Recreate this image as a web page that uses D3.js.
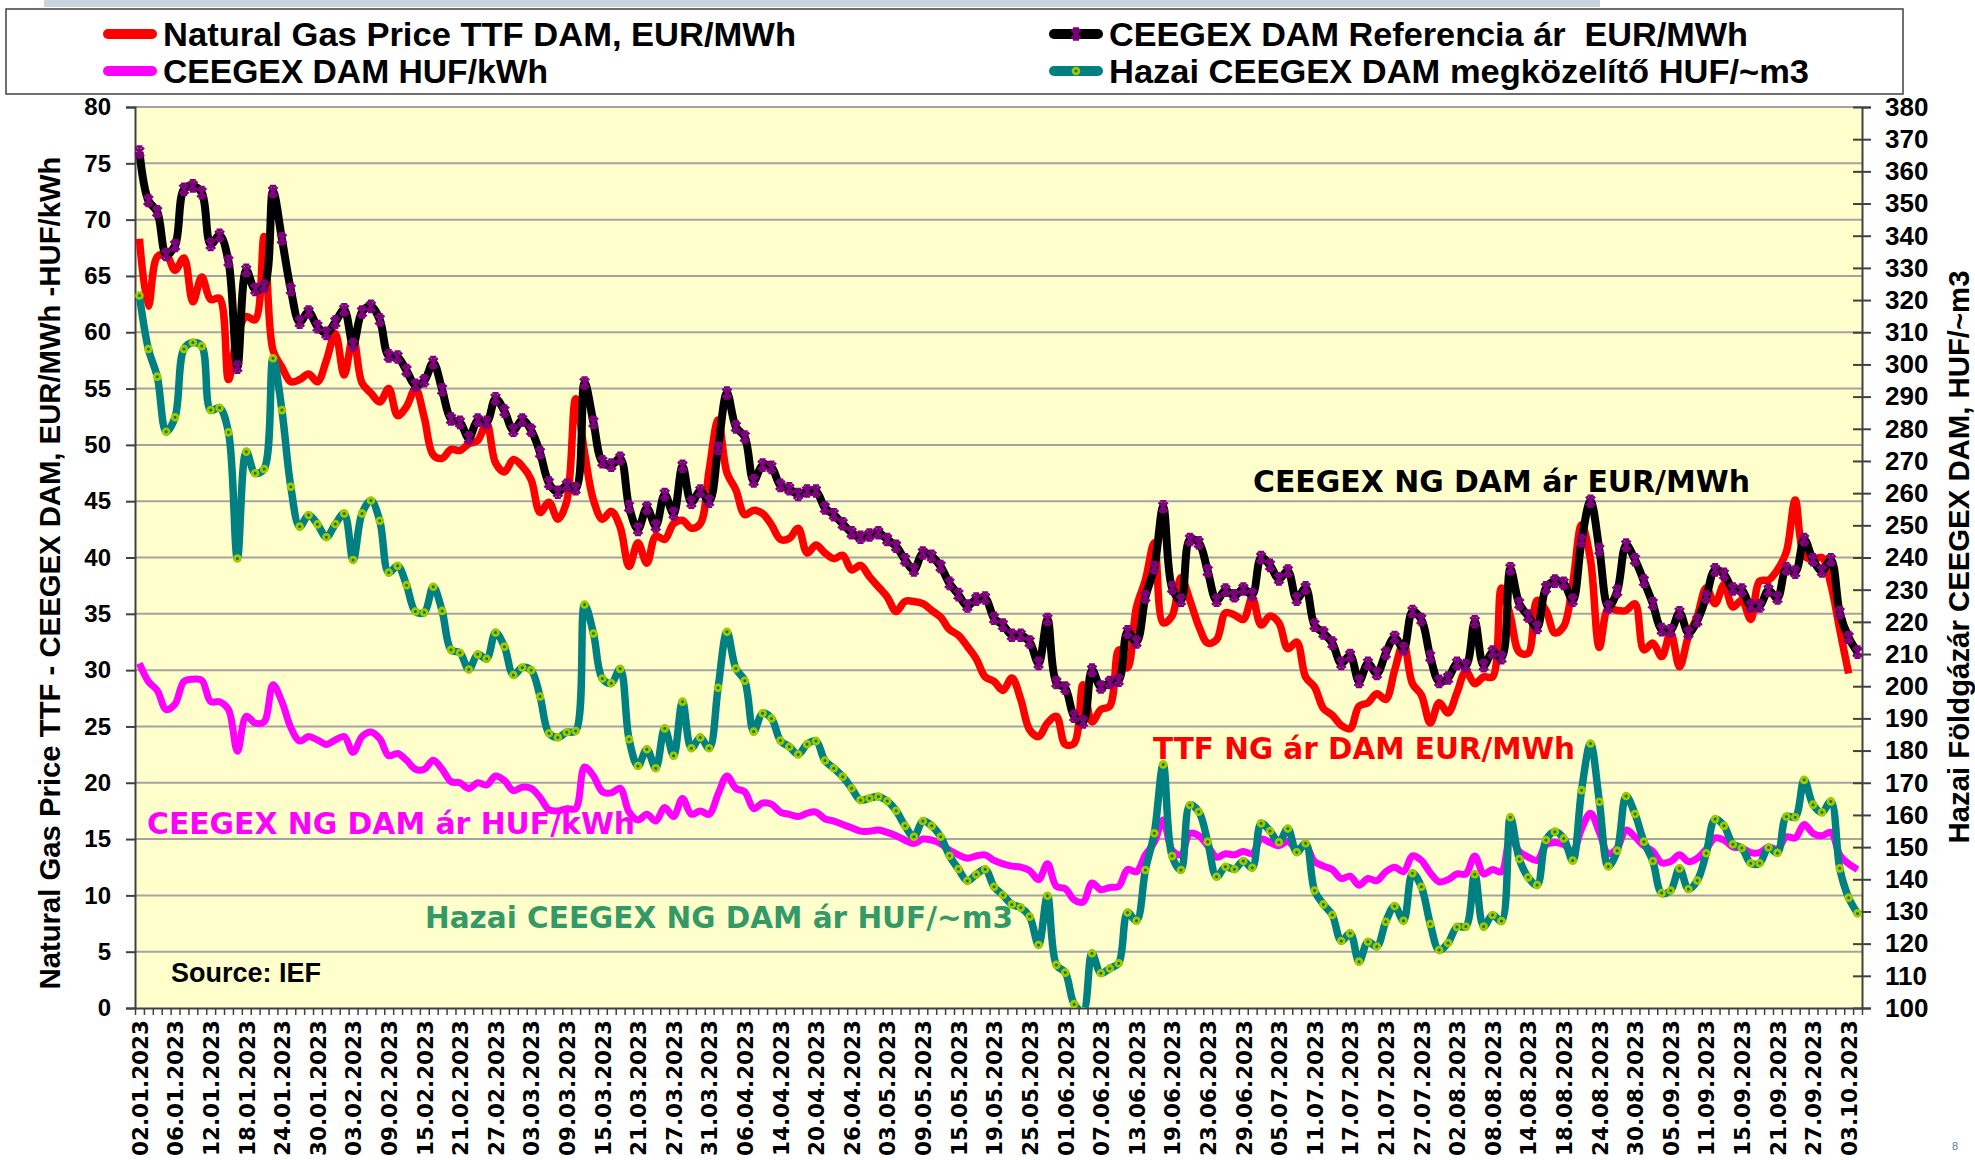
<!DOCTYPE html>
<html>
<head>
<meta charset="utf-8">
<script src="https://cdn.jsdelivr.net/npm/d3@7"></script>
<style>
body { margin: 0; background: #ffffff; }
svg text { font-family: "Liberation Sans", Arial, sans-serif; font-weight: bold; }
.note { font-family: "DejaVu Sans", Verdana, sans-serif !important; }
</style>
</head>
<body>
<svg id="chart" width="1975" height="1160"></svg>
<script>

// x axis labels, one every 4th trading day
const tickLabels = ["02.01.2023","06.01.2023","12.01.2023","18.01.2023","24.01.2023","30.01.2023","03.02.2023","09.02.2023",
    "15.02.2023","21.02.2023","27.02.2023","03.03.2023","09.03.2023","15.03.2023","21.03.2023","27.03.2023","31.03.2023",
    "06.04.2023","14.04.2023","20.04.2023","26.04.2023","03.05.2023","09.05.2023","15.05.2023","19.05.2023","25.05.2023",
    "01.06.2023","07.06.2023","13.06.2023","19.06.2023","23.06.2023","29.06.2023","05.07.2023","11.07.2023","17.07.2023",
    "21.07.2023","27.07.2023","02.08.2023","08.08.2023","14.08.2023","18.08.2023","24.08.2023","30.08.2023","05.09.2023",
    "11.09.2023","15.09.2023","21.09.2023","27.09.2023","03.10.2023"];

// Natural Gas Price TTF DAM, EUR/MWh
const ttfEur = [68.3, 62.3, 66.7, 66.9, 65.5, 66.6, 62.7, 64.9, 62.9, 63.0,
    55.8, 59.8, 61.4, 61.1, 68.5, 58.4, 56.9, 55.6, 55.8, 56.3,
    55.6, 57.5, 59.9, 56.2, 59.6, 55.5, 54.6, 53.8, 55.0, 52.6,
    53.4, 55.0, 52.4, 49.1, 48.8, 49.6, 49.5, 50.1, 50.4, 51.9,
    48.4, 47.6, 48.7, 48.1, 46.9, 44.0, 44.9, 43.4, 45.0, 54.1,
    49.3, 45.1, 43.4, 44.1, 42.7, 39.2, 41.3, 39.5, 41.9, 41.6,
    43.0, 43.3, 42.6, 43.0, 47.8, 52.2, 47.5, 46.0, 43.8, 44.2,
    43.9, 42.9, 41.6, 41.7, 42.6, 40.4, 41.1, 40.4, 39.9, 40.2,
    38.9, 39.3, 38.3, 37.4, 36.5, 35.2, 36.1, 36.1, 35.9, 35.3,
    34.7, 33.6, 33.1, 32.1, 31.0, 29.4, 29.0, 28.2, 29.3, 27.4,
    24.7, 24.1, 25.3, 25.9, 23.4, 23.5, 28.7, 25.4, 26.5, 26.8,
    31.8, 30.2, 35.6, 38.0, 41.3, 34.2, 34.8, 38.2, 36.2, 33.9,
    32.4, 32.7, 35.1, 34.9, 34.5, 36.4, 34.0, 34.8, 34.2, 31.9,
    32.5, 29.4, 28.5, 26.6, 26.0, 25.1, 24.8, 26.8, 27.1, 27.9,
    27.4, 30.0, 32.4, 28.8, 27.8, 25.3, 27.1, 26.2, 28.0, 29.9,
    28.8, 29.4, 29.4, 37.3, 34.8, 31.6, 31.5, 36.2, 35.3, 33.3,
    33.9, 37.7, 42.9, 39.8, 32.0, 35.5, 35.3, 35.3, 35.9, 31.8,
    32.4, 31.2, 33.3, 30.3, 33.0, 34.8, 37.3, 35.9, 37.6, 35.6,
    36.2, 34.5, 37.9, 38.0, 38.9, 40.5, 45.1, 40.2, 39.8, 40.0,
    37.6, 33.6, 29.7];

// CEEGEX DAM Referencia ár EUR/MWh
const ceegexEur = [76.0, 71.7, 70.7, 66.9, 67.7, 72.7, 73.0, 72.4, 67.8, 68.6,
    66.3, 56.9, 65.5, 63.8, 64.1, 72.5, 68.3, 63.8, 60.9, 61.8,
    60.5, 59.9, 60.9, 62.0, 58.9, 61.8, 62.3, 61.1, 57.9, 57.8,
    56.6, 55.3, 55.7, 57.3, 54.9, 52.3, 52.0, 50.6, 52.2, 52.0,
    54.1, 53.0, 51.3, 52.2, 51.3, 49.3, 46.6, 45.8, 46.4, 46.1,
    55.5, 52.0, 48.5, 48.2, 48.8, 44.5, 42.5, 44.4, 42.8, 45.6,
    43.9, 48.1, 44.9, 45.9, 45.0, 49.7, 54.6, 51.6, 50.7, 46.8,
    48.2, 48.0, 46.4, 46.1, 45.6, 45.9, 45.9, 44.4, 43.8, 43.0,
    42.2, 41.8, 42.0, 42.2, 41.6, 41.0, 39.8, 38.9, 40.4, 40.1,
    39.2, 37.7, 36.7, 35.7, 36.3, 36.4, 34.6, 34.0, 33.1, 33.1,
    32.5, 30.6, 34.5, 28.9, 28.4, 25.9, 25.4, 30.0, 28.5, 28.9,
    29.1, 33.4, 32.5, 36.5, 39.1, 44.5, 37.3, 36.2, 41.6, 41.3,
    38.8, 36.2, 37.1, 36.6, 37.2, 36.7, 40.0, 39.3, 38.1, 38.8,
    36.3, 37.3, 34.0, 33.3, 32.4, 30.6, 31.3, 29.0, 30.6, 29.7,
    31.5, 32.9, 31.9, 35.2, 34.5, 31.2, 29.0, 29.3, 30.6, 30.4,
    34.3, 30.4, 31.6, 31.1, 39.0, 35.9, 34.8, 33.8, 37.3, 37.9,
    37.7, 36.2, 41.5, 45.0, 40.7, 35.6, 37.0, 41.1, 39.8, 37.9,
    35.9, 33.6, 33.5, 35.1, 33.3, 34.4, 36.5, 38.9, 38.5, 37.2,
    37.1, 35.7, 35.7, 37.1, 36.4, 39.0, 38.7, 41.6, 39.8, 38.8,
    39.8, 35.1, 32.9, 31.6];

// CEEGEX DAM HUF/kWh
const ceegexHufKwh = [30.6, 29.0, 28.2, 26.5, 27.0, 29.0, 29.2, 29.1, 27.2, 27.2,
    26.5, 22.8, 25.9, 25.3, 25.4, 28.7, 27.2, 24.9, 23.7, 24.1,
    23.8, 23.4, 23.8, 24.1, 22.7, 24.1, 24.5, 23.9, 22.4, 22.6,
    22.0, 21.2, 21.2, 22.0, 21.2, 20.1, 20.0, 19.5, 20.0, 19.8,
    20.6, 20.2, 19.3, 19.6, 19.5, 18.7, 17.6, 17.5, 17.7, 17.7,
    21.4, 20.6, 19.2, 19.1, 19.5, 17.4, 16.7, 17.2, 16.6, 17.8,
    17.0, 18.6, 17.2, 17.5, 17.2, 19.0, 20.6, 19.5, 19.2, 17.7,
    18.2, 18.1, 17.4, 17.2, 17.0, 17.3, 17.4, 16.8, 16.6, 16.3,
    16.0, 15.7, 15.7, 15.8, 15.6, 15.3, 14.9, 14.6, 15.0, 14.9,
    14.6, 14.0, 13.6, 13.3, 13.5, 13.6, 13.1, 12.8, 12.6, 12.5,
    12.2, 11.4, 12.8, 10.8, 10.6, 9.6, 9.4, 11.1, 10.5, 10.7,
    10.8, 12.3, 12.1, 13.6, 14.7, 16.7, 14.0, 13.6, 15.5, 15.3,
    14.4, 13.4, 13.7, 13.6, 13.9, 13.7, 15.0, 14.7, 14.4, 14.8,
    14.1, 14.4, 13.0, 12.6, 12.3, 11.5, 11.7, 10.9, 11.5, 11.3,
    12.1, 12.5, 12.1, 13.5, 13.1, 12.0, 11.2, 11.4, 11.9, 11.9,
    13.5, 11.9, 12.3, 12.1, 15.1, 13.9, 13.4, 13.1, 14.5, 14.7,
    14.5, 13.9, 15.9, 17.3, 15.6, 13.7, 14.2, 15.8, 15.2, 14.4,
    13.9, 12.9, 13.0, 13.6, 13.0, 13.3, 14.1, 15.1, 14.9, 14.3,
    14.2, 13.8, 13.8, 14.3, 14.1, 15.2, 15.1, 16.3, 15.5, 15.3,
    15.6, 13.6, 12.8, 12.3];

// Hazai CEEGEX DAM megközelítő HUF/~m3 (right axis)
const hazaiHufM3 = [321.4, 304.8, 296.2, 279.1, 283.6, 304.8, 306.8, 305.7, 285.8, 286.5,
    278.9, 239.7, 272.9, 266.2, 267.5, 301.9, 285.8, 262.0, 249.6, 253.2,
    250.3, 246.3, 250.4, 253.7, 239.2, 253.7, 257.7, 251.4, 235.3, 237.4,
    231.4, 223.2, 222.9, 230.9, 223.4, 211.3, 210.4, 205.2, 209.9, 208.5,
    216.7, 212.3, 203.5, 205.8, 205.0, 196.8, 185.4, 184.1, 185.7, 186.1,
    225.4, 216.4, 202.4, 200.9, 205.4, 183.5, 175.2, 180.4, 174.5, 186.9,
    178.4, 195.2, 180.7, 184.1, 180.7, 199.5, 216.9, 205.5, 201.7, 185.9,
    191.6, 190.0, 183.1, 181.2, 178.8, 182.0, 183.0, 176.9, 174.5, 171.9,
    168.3, 164.6, 165.2, 165.7, 164.3, 161.3, 156.6, 153.2, 158.1, 156.6,
    153.2, 147.3, 143.2, 139.5, 141.5, 143.1, 137.7, 135.1, 132.2, 131.2,
    128.4, 119.6, 134.9, 113.4, 111.0, 101.2, 98.9, 117.0, 110.8, 112.3,
    113.9, 129.7, 127.1, 142.9, 154.3, 175.7, 147.2, 142.9, 163.1, 161.0,
    151.7, 140.8, 143.9, 143.1, 145.7, 143.6, 157.4, 155.0, 151.5, 155.8,
    148.4, 151.2, 136.5, 132.2, 128.9, 120.8, 123.2, 114.4, 120.6, 119.1,
    126.8, 131.7, 127.1, 141.9, 137.7, 126.1, 118.0, 120.2, 125.2, 125.3,
    141.6, 125.3, 128.9, 127.0, 159.3, 146.3, 140.6, 138.2, 152.2, 154.8,
    152.7, 145.8, 167.7, 182.2, 164.1, 144.0, 148.9, 165.9, 160.3, 151.7,
    145.7, 135.7, 136.5, 143.4, 136.9, 139.6, 148.1, 158.7, 156.6, 150.9,
    149.7, 145.0, 145.0, 149.9, 148.2, 159.5, 159.3, 170.9, 163.2, 160.8,
    164.2, 143.4, 134.3, 129.4];

const leftTicks = d3.range(0, 81, 5);
const rightTicks = d3.range(100, 381, 10);

let svg = d3.select("#chart");

let pLeft = 135, pRight = 1862, pTop = 107, pBottom = 1008;
let n = ceegexEur.length;

let xScale = d3.scaleLinear()
                .domain([0, n])
                .range([pLeft, pRight]);
let xc = i => xScale(i + 0.5);

let yScale = d3.scaleLinear()
                .domain([0, 80])
                .range([pBottom, pTop]);

let y2Scale = d3.scaleLinear()
                .domain([100, 380])
                .range([pBottom, pTop]);

// bits of the page frame
svg.append("rect")
    .attr("x", 44).attr("y", 0)
    .attr("width", 1556).attr("height", 7)
    .attr("fill", "#c8d4dd");

// plot area
svg.append("rect")
    .attr("x", pLeft).attr("y", pTop)
    .attr("width", pRight - pLeft).attr("height", pBottom - pTop)
    .attr("fill", "#ffffcc");

svg.append("defs")
    .append("clipPath")
    .attr("id", "plotClip")
    .append("rect")
    .attr("x", pLeft).attr("y", pTop)
    .attr("width", pRight - pLeft).attr("height", pBottom - pTop);

svg.append("g")
    .selectAll("line")
    .data(leftTicks.filter(d => d > 0))
    .enter()
    .append("line")
    .attr("x1", pLeft).attr("x2", pRight)
    .attr("y1", d => yScale(d)).attr("y2", d => yScale(d))
    .attr("stroke", "#a3a3a3")
    .attr("stroke-width", 2);

// left axis
let yAxisFunction = d3.axisLeft(yScale)
                        .tickValues(leftTicks)
                        .tickSize(9)
                        .tickPadding(15);

let yG = svg.append("g")
            .attr("transform", `translate(${pLeft}, 0)`)
            .call(yAxisFunction);
yG.select(".domain").attr("stroke", "#404040").attr("stroke-width", 2);
yG.selectAll(".tick line").attr("stroke", "#404040").attr("stroke-width", 2);
yG.selectAll(".tick text").style("font-size", "24px").attr("fill", "#000");

// right axis
let y2AxisFunction = d3.axisRight(y2Scale)
                        .tickValues(rightTicks)
                        .tickSize(9)
                        .tickPadding(14);

let y2G = svg.append("g")
            .attr("transform", `translate(${pRight}, 0)`)
            .call(y2AxisFunction);
y2G.select(".domain").attr("stroke", "#404040").attr("stroke-width", 2);
y2G.selectAll(".tick line").attr("x1", -9).attr("stroke", "#404040").attr("stroke-width", 2);
y2G.selectAll(".tick text").style("font-size", "26px").attr("fill", "#000");

// x axis: a tick between every category, a label every 4th
let xTickFunction = d3.axisBottom(xScale)
                        .tickValues(d3.range(0, n + 1))
                        .tickSize(7)
                        .tickSizeOuter(0)
                        .tickFormat("");

let xG = svg.append("g")
            .attr("transform", `translate(0, ${pBottom})`)
            .call(xTickFunction);
xG.select(".domain").attr("stroke", "#404040").attr("stroke-width", 2);
xG.selectAll(".tick line").attr("stroke", "#404040").attr("stroke-width", 1.5);

let xLabelFunction = d3.axisBottom(xScale)
                        .tickValues(tickLabels.map((d, k) => k * 4 + 0.5))
                        .tickSize(0)
                        .tickFormat((d, k) => tickLabels[k]);

let xLabelG = svg.append("g")
                .attr("transform", `translate(0, ${pBottom})`)
                .call(xLabelFunction);
xLabelG.select(".domain").remove();
xLabelG.selectAll(".tick text")
    .attr("class", "note")
    .attr("transform", "rotate(-90)")
    .attr("text-anchor", "end")
    .attr("x", -12)
    .attr("y", 0)
    .attr("dy", "0.36em")
    .style("font-size", "21.5px")
    .attr("fill", "#000");

// series
const smooth = d3.curveCatmullRom.alpha(0.5);
const dMaker = scale => d3.line()
                            .x((d, i) => xc(i))
                            .y(d => scale(d))
                            .curve(smooth);

let seriesLayer = svg.append("g").attr("clip-path", "url(#plotClip)");

seriesLayer.append("path")
    .attr("d", dMaker(yScale)(ttfEur))
    .attr("fill", "none")
    .attr("stroke", "#ff0000")
    .attr("stroke-width", 7.5)
    .attr("stroke-linejoin", "round");

seriesLayer.append("path")
    .attr("d", dMaker(yScale)(ceegexEur))
    .attr("fill", "none")
    .attr("stroke", "#000000")
    .attr("stroke-width", 8)
    .attr("stroke-linejoin", "round");

const starPath = "M-4.5,-4.5L4.5,4.5M4.5,-4.5L-4.5,4.5M0,-5.5V5.5M-3,-5.5H3M-3,5.5H3";

seriesLayer.append("g")
    .selectAll("path")
    .data(ceegexEur)
    .enter()
    .append("path")
    .attr("transform", (d, i) => `translate(${xc(i)}, ${yScale(d)})`)
    .attr("d", starPath)
    .attr("fill", "none")
    .attr("stroke", "#800080")
    .attr("stroke-width", 2.6);

seriesLayer.append("path")
    .attr("d", dMaker(yScale)(ceegexHufKwh))
    .attr("fill", "none")
    .attr("stroke", "#ff00ff")
    .attr("stroke-width", 7)
    .attr("stroke-linejoin", "round");

seriesLayer.append("path")
    .attr("d", dMaker(y2Scale)(hazaiHufM3))
    .attr("fill", "none")
    .attr("stroke", "#008080")
    .attr("stroke-width", 7.5)
    .attr("stroke-linejoin", "round");

seriesLayer.append("g")
    .selectAll("circle")
    .data(hazaiHufM3)
    .enter()
    .append("circle")
    .attr("cx", (d, i) => xc(i))
    .attr("cy", d => y2Scale(d))
    .attr("r", 2.9)
    .attr("fill", "#336600")
    .attr("stroke", "#99cc00")
    .attr("stroke-width", 2.8);

// axis titles
svg.append("text")
    .attr("transform", "translate(60, 573) rotate(-90)")
    .attr("text-anchor", "middle")
    .style("font-size", "29.3px")
    .attr("textLength", 833)
    .attr("lengthAdjust", "spacingAndGlyphs")
    .text("Natural Gas Price TTF - CEEGEX DAM, EUR/MWh -HUF/kWh");

svg.append("text")
    .attr("transform", "translate(1969, 557) rotate(-90)")
    .attr("text-anchor", "middle")
    .style("font-size", "29.3px")
    .attr("textLength", 573)
    .attr("lengthAdjust", "spacingAndGlyphs")
    .text("Hazai Földgázár CEEGEX DAM, HUF/~m3");

// notes inside the plot
let notes = [
    {text: "CEEGEX NG DAM ár EUR/MWh", x: 1253, y: 492, len: 497, color: "#000000"},
    {text: "TTF NG ár DAM EUR/MWh", x: 1153, y: 759, len: 422, color: "#ff0000"},
    {text: "CEEGEX NG DAM ár HUF/kWh", x: 147, y: 834, len: 488, color: "#ff00ff"},
    {text: "Hazai CEEGEX NG DAM ár HUF/~m3", x: 425, y: 928, len: 588, color: "#339966"}
];

svg.append("g")
    .selectAll("text")
    .data(notes)
    .enter()
    .append("text")
    .attr("class", "note")
    .attr("x", d => d.x)
    .attr("y", d => d.y)
    .attr("textLength", d => d.len)
    .attr("lengthAdjust", "spacingAndGlyphs")
    .style("font-size", "29.5px")
    .attr("fill", d => d.color)
    .text(d => d.text);

svg.append("text")
    .attr("x", 171)
    .attr("y", 982)
    .style("font-size", "27px")
    .attr("fill", "#000")
    .text("Source: IEF");

// legend
svg.append("rect")
    .attr("x", 6).attr("y", 9)
    .attr("width", 1897).attr("height", 85)
    .attr("fill", "#ffffff")
    .attr("stroke", "#404040")
    .attr("stroke-width", 1.5);

let legendItems = [
    {text: "Natural Gas Price TTF DAM, EUR/MWh", x: 103, y: 46, len: 633, color: "#ff0000", marker: null},
    {text: "CEEGEX DAM Referencia ár  EUR/MWh", x: 1049, y: 46, len: 639, color: "#000000", marker: "star"},
    {text: "CEEGEX DAM HUF/kWh", x: 103, y: 83, len: 385, color: "#ff00ff", marker: null},
    {text: "Hazai CEEGEX DAM megközelítő HUF/~m3", x: 1049, y: 83, len: 700, color: "#008080", marker: "dot"}
];

let legendG = svg.append("g")
                .selectAll("g")
                .data(legendItems)
                .enter()
                .append("g");

legendG.append("line")
    .attr("x1", d => d.x + 5).attr("x2", d => d.x + 49)
    .attr("y1", d => d.y - 12).attr("y2", d => d.y - 12)
    .attr("stroke", d => d.color)
    .attr("stroke-width", 10)
    .attr("stroke-linecap", "round");

legendG.filter(d => d.marker == "star")
    .append("path")
    .attr("transform", d => `translate(${d.x + 27}, ${d.y - 12})`)
    .attr("d", starPath)
    .attr("fill", "none")
    .attr("stroke", "#800080")
    .attr("stroke-width", 2.6);

legendG.filter(d => d.marker == "dot")
    .append("circle")
    .attr("cx", d => d.x + 27)
    .attr("cy", d => d.y - 12)
    .attr("r", 2.9)
    .attr("fill", "#336600")
    .attr("stroke", "#99cc00")
    .attr("stroke-width", 2.8);

legendG.append("text")
    .attr("x", d => d.x + 60)
    .attr("y", d => d.y)
    .attr("textLength", d => d.len)
    .attr("lengthAdjust", "spacingAndGlyphs")
    .style("font-size", "34px")
    .style("white-space", "pre")
    .attr("fill", "#000")
    .text(d => d.text);

svg.append("text")
    .attr("x", 1952)
    .attr("y", 1150)
    .style("font-size", "11px")
    .style("font-weight", "normal")
    .attr("fill", "#5b7a99")
    .text("8");

</script>
</body>
</html>
